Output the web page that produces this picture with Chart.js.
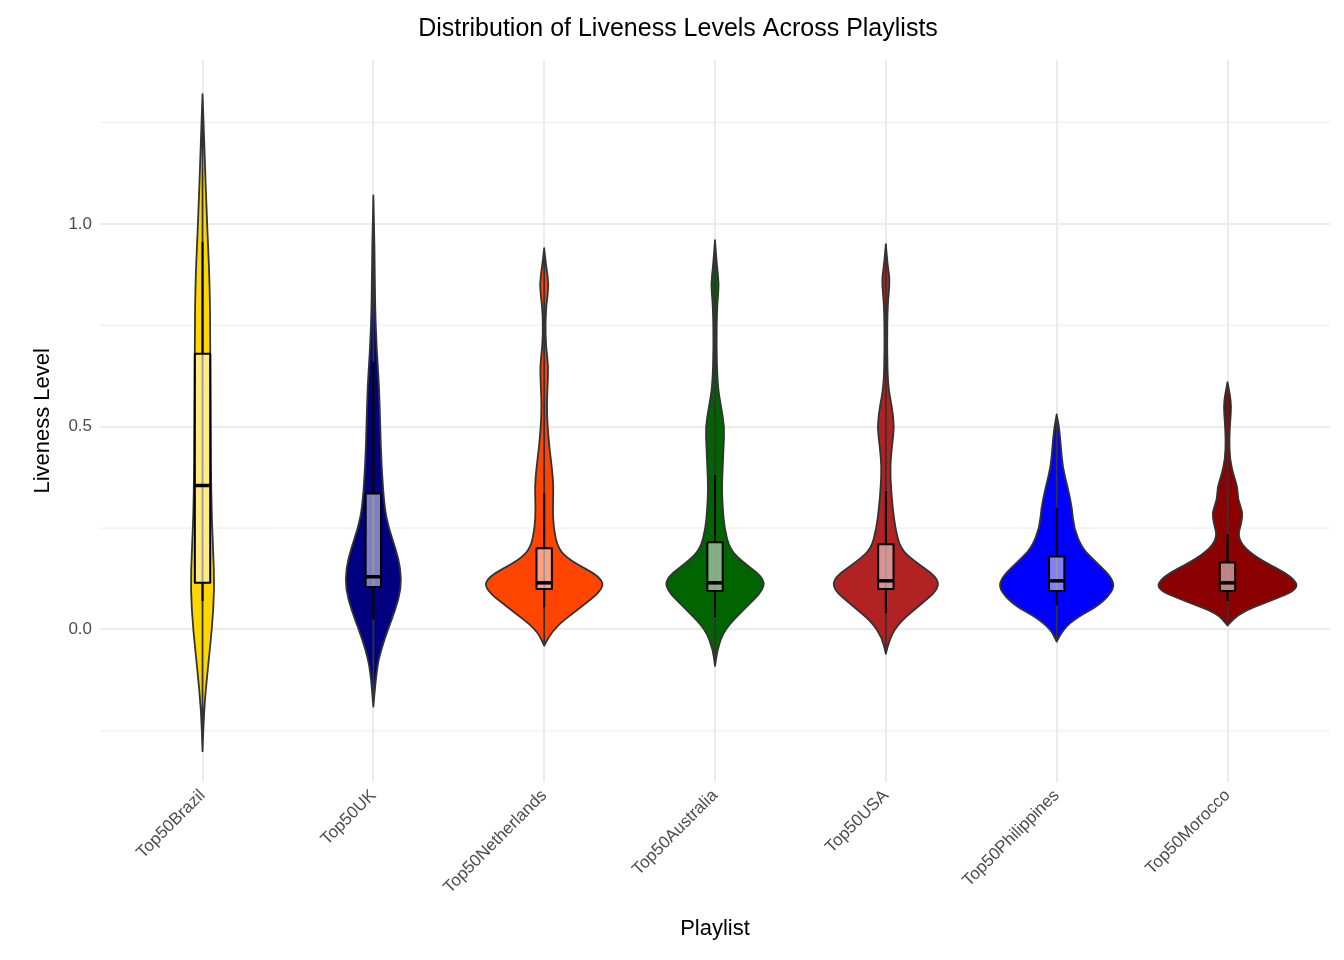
<!DOCTYPE html>
<html>
<head>
<meta charset="utf-8">
<script src="https://cdn.jsdelivr.net/npm/chart.js@4"></script>
<style>
  html, body { margin: 0; padding: 0; background: #fff; }
  #wrap { width: 1344px; height: 960px; }
</style>
</head>
<body>
<div id="wrap"><canvas id="chart"></canvas></div>
<script>
const playlists = ["Top50Brazil", "Top50UK", "Top50Netherlands", "Top50Australia", "Top50USA", "Top50Philippines", "Top50Morocco"];
const fillColors = ["#FFD700", "#000080", "#FF4500", "#006400", "#B22222", "#0000FF", "#8B0000"];
const yTicks = [0, 0.5, 1.0];

// violin outlines: liveness level -> half width (in category units)
const brazilLevels = [-0.30, -0.2, -0.1, 0.0, 0.1, 0.2, 0.3, 0.5, 0.7, 0.85, 0.95, 1.05, 1.15, 1.25, 1.32];
const brazilWidths = [0, 0.008, 0.03, 0.055, 0.07, 0.062, 0.052, 0.047, 0.046, 0.042, 0.032, 0.022, 0.014, 0.006, 0];
const ukLevels = [-0.19, -0.1, -0.05, 0.0, 0.05, 0.1, 0.15, 0.2, 0.25, 0.3, 0.4, 0.5, 0.6, 0.7, 0.8, 0.9, 1.0, 1.07];
const ukWidths = [0, 0.018, 0.045, 0.085, 0.13, 0.162, 0.16, 0.13, 0.09, 0.065, 0.048, 0.04, 0.034, 0.018, 0.01, 0.008, 0.004, 0];
const nlLevels = [-0.04, 0.0, 0.05, 0.1, 0.13, 0.17, 0.2, 0.25, 0.3, 0.35, 0.4, 0.45, 0.5, 0.55, 0.6, 0.65, 0.7, 0.75, 0.8, 0.85, 0.9, 0.94];
const nlWidths = [0, 0.045, 0.2, 0.35, 0.33, 0.15, 0.08, 0.055, 0.05, 0.055, 0.045, 0.03, 0.02, 0.015, 0.02, 0.024, 0.01, 0.007, 0.012, 0.028, 0.01, 0];
const auLevels = [-0.09, -0.05, 0.0, 0.05, 0.1, 0.13, 0.17, 0.2, 0.25, 0.3, 0.35, 0.4, 0.45, 0.5, 0.55, 0.6, 0.7, 0.8, 0.85, 0.9, 0.96];
const auWidths = [0, 0.012, 0.055, 0.17, 0.29, 0.28, 0.15, 0.085, 0.055, 0.045, 0.04, 0.045, 0.05, 0.055, 0.035, 0.015, 0.008, 0.012, 0.024, 0.01, 0];
const usaLevels = [-0.06, -0.02, 0.02, 0.06, 0.1, 0.13, 0.17, 0.2, 0.25, 0.3, 0.35, 0.4, 0.45, 0.5, 0.55, 0.6, 0.7, 0.8, 0.86, 0.9, 0.95];
const usaWidths = [0, 0.022, 0.085, 0.2, 0.31, 0.3, 0.16, 0.085, 0.055, 0.04, 0.03, 0.025, 0.035, 0.05, 0.035, 0.012, 0.007, 0.01, 0.024, 0.01, 0];
const phLevels = [-0.03, 0.0, 0.03, 0.06, 0.1, 0.13, 0.17, 0.2, 0.25, 0.3, 0.35, 0.4, 0.45, 0.5, 0.53];
const phWidths = [0, 0.035, 0.12, 0.25, 0.34, 0.32, 0.22, 0.15, 0.1, 0.09, 0.065, 0.035, 0.025, 0.014, 0];
const maLevels = [0.01, 0.04, 0.07, 0.1, 0.13, 0.17, 0.2, 0.23, 0.26, 0.29, 0.32, 0.35, 0.38, 0.42, 0.47, 0.52, 0.55, 0.58, 0.61];
const maWidths = [0, 0.06, 0.25, 0.42, 0.38, 0.2, 0.1, 0.06, 0.08, 0.09, 0.06, 0.06, 0.035, 0.014, 0.01, 0.017, 0.022, 0.014, 0];
const violinLevels = [brazilLevels, ukLevels, nlLevels, auLevels, usaLevels, phLevels, maLevels];
const violinWidths = [brazilWidths, ukWidths, nlWidths, auWidths, usaWidths, phWidths, maWidths];

// box plots
const whiskerLow = [0.07, 0.025, 0.055, 0.03, 0.04, 0.06, 0.07];
const q1 = [0.115, 0.105, 0.1, 0.095, 0.1, 0.095, 0.095];
const medians = [0.355, 0.13, 0.115, 0.115, 0.12, 0.12, 0.115];
const q3 = [0.68, 0.335, 0.2, 0.215, 0.21, 0.18, 0.165];
const whiskerHigh = [0.955, 0.66, 0.335, 0.38, 0.34, 0.3, 0.235];

function smoothPath(ctx, pts) {
  ctx.moveTo(pts[0][0], pts[0][1]);
  for (let i = 1; i < pts.length - 1; i++) {
    const mx = (pts[i][0] + pts[i + 1][0]) / 2, my = (pts[i][1] + pts[i + 1][1]) / 2;
    ctx.quadraticCurveTo(pts[i][0], pts[i][1], mx, my);
  }
  const last = pts[pts.length - 1];
  ctx.lineTo(last[0], last[1]);
}

const violinPlugin = {
  id: "violins",
  beforeDatasetsDraw(chart) {
    const ctx = chart.ctx, xs = chart.scales.x, ys = chart.scales.y;
    ctx.save();
    playlists.forEach((name, i) => {
      const c = i + 1, lv = violinLevels[i], w = violinWidths[i];
      const right = lv.map((v, k) => [xs.getPixelForValue(c + w[k]), ys.getPixelForValue(v)]);
      const left = lv.map((v, k) => [xs.getPixelForValue(c - w[k]), ys.getPixelForValue(v)]).reverse();
      ctx.beginPath();
      smoothPath(ctx, right);
      const l0 = left[0];
      ctx.lineTo(l0[0], l0[1]);
      smoothPath(ctx, left);
      ctx.closePath();
      ctx.fillStyle = fillColors[i];
      ctx.fill();
      ctx.strokeStyle = "#333333";
      ctx.lineWidth = 1.8;
      ctx.lineJoin = "round";
      ctx.stroke();

      const cx = xs.getPixelForValue(c);
      const bl = xs.getPixelForValue(c - 0.045), br = xs.getPixelForValue(c + 0.045);
      ctx.strokeStyle = "#000";
      ctx.lineWidth = 2;
      ctx.beginPath();
      ctx.moveTo(cx, ys.getPixelForValue(whiskerLow[i]));
      ctx.lineTo(cx, ys.getPixelForValue(q1[i]));
      ctx.moveTo(cx, ys.getPixelForValue(q3[i]));
      ctx.lineTo(cx, ys.getPixelForValue(whiskerHigh[i]));
      ctx.stroke();
      const top = ys.getPixelForValue(q3[i]), bot = ys.getPixelForValue(q1[i]);
      ctx.fillStyle = "rgba(255,255,255,0.5)";
      ctx.fillRect(bl, top, br - bl, bot - top);
      ctx.strokeRect(bl, top, br - bl, bot - top);
      ctx.lineWidth = 3.5;
      ctx.beginPath();
      ctx.moveTo(bl, ys.getPixelForValue(medians[i]));
      ctx.lineTo(br, ys.getPixelForValue(medians[i]));
      ctx.stroke();
    });
    ctx.restore();
  }
};

// minor grid lines halfway between major ticks
const minorGrid = {
  id: "minorGrid",
  beforeDraw(chart) {
    const ctx = chart.ctx, ys = chart.scales.y, a = chart.chartArea;
    ctx.save();
    ctx.strokeStyle = "#EBEBEB";
    ctx.lineWidth = 1;
    [-0.25, 0.25, 0.75, 1.25].forEach(v => {
      const p = ys.getPixelForValue(v);
      ctx.beginPath(); ctx.moveTo(a.left, p); ctx.lineTo(a.right, p); ctx.stroke();
    });
    ctx.restore();
  }
};

new Chart(document.getElementById("chart"), {
  type: "scatter",
  data: {
    datasets: [{
      data: medians.map((m, i) => ({ x: i + 1, y: m })),
      pointRadius: 0
    }]
  },
  options: {
    responsive: true,
    maintainAspectRatio: false,
    animation: false,
    layout: { padding: { left: 26, right: 14, top: 6, bottom: 18 } },
    plugins: {
      legend: { display: false },
      tooltip: { enabled: false },
      title: {
        display: true,
        text: "Distribution of Liveness Levels Across Playlists",
        color: "#000",
        font: { family: "Liberation Sans, Arial, sans-serif", size: 25, weight: "normal" },
        padding: { top: 8, bottom: 16 }
      }
    },
    scales: {
      x: {
        type: "linear",
        min: 0.4, max: 7.6,
        afterBuildTicks(axis) { axis.ticks = playlists.map((p, i) => ({ value: i + 1 })); },
        ticks: {
          callback: (v) => playlists[v - 1],
          minRotation: 45, maxRotation: 45,
          color: "#4D4D4D",
          padding: 4,
          font: { family: "Liberation Sans, Arial, sans-serif", size: 17 }
        },
        grid: { color: "#EBEBEB", lineWidth: 2, drawTicks: false },
        border: { display: false },
        title: {
          display: true, text: "Playlist", color: "#000",
          padding: { top: 14, bottom: 0 },
          font: { family: "Liberation Sans, Arial, sans-serif", size: 22 }
        }
      },
      y: {
        min: -0.375, max: 1.404,
        afterBuildTicks(axis) { axis.ticks = yTicks.map(v => ({ value: v })); },
        ticks: {
          callback: (v) => v.toFixed(1),
          color: "#4D4D4D",
          padding: 8,
          font: { family: "Liberation Sans, Arial, sans-serif", size: 17 }
        },
        grid: { color: "#EBEBEB", lineWidth: 2, drawTicks: false },
        border: { display: false },
        title: {
          display: true, text: "Liveness Level", color: "#000",
          font: { family: "Liberation Sans, Arial, sans-serif", size: 22 }
        }
      }
    }
  },
  plugins: [minorGrid, violinPlugin]
});
</script>
</body>
</html>
